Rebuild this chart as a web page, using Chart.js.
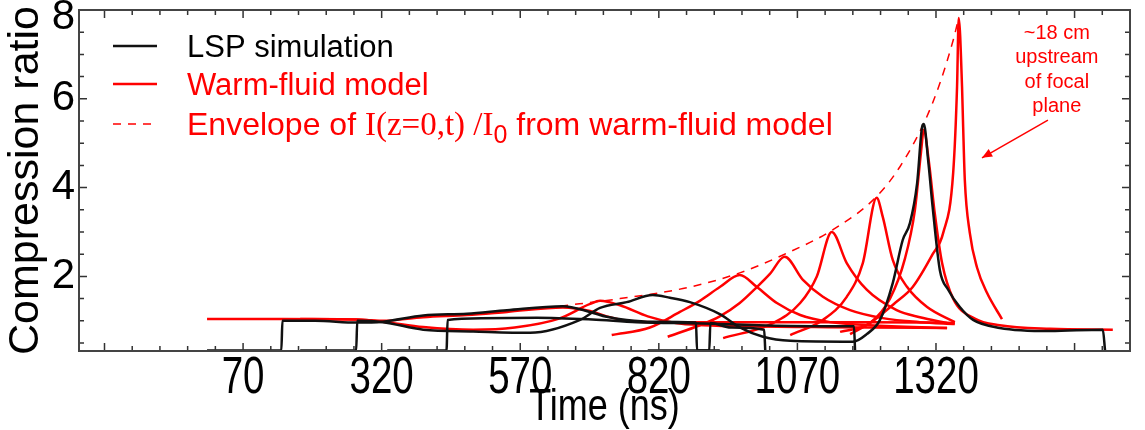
<!DOCTYPE html>
<html>
<head>
<meta charset="utf-8">
<script src="https://cdn.jsdelivr.net/npm/chart.js@4.4.1/dist/chart.umd.min.js"></script>
<style>
  html, body { margin: 0; padding: 0; background: #fff; }
  #wrap { width: 1145px; height: 430px; }
</style>
</head>
<body>
<div id="wrap"><canvas id="compChart"></canvas></div>
<script>
// ---- axis ticks ----
const xTickValues = [70, 320, 570, 820, 1070, 1320];
const yTickValues = [2, 4, 6, 8];

// ---- LSP simulation (time in ns, compression ratio) ----
const lspTimeA  = [5, 139, 141, 200, 275, 322, 395, 474, 546, 647, 696, 726, 762, 809, 887, 889, 930];
const lspRatioA = [0.33, 0.33, 1.0, 1.0, 0.96, 0.98, 1.12, 1.16, 1.24, 1.33, 1.2, 1.09, 1.02, 0.98, 0.96, 0.33, 0.33];

const lspTimeB  = [173, 274, 276, 322, 395, 485, 588, 678, 714, 762, 809, 840, 876, 930, 966, 1008, 1057, 1170,
                   1195, 1219, 1242, 1260, 1273, 1286, 1295, 1298, 1306, 1314, 1327, 1342, 1363, 1387, 1435, 1526, 1621, 1625];
const lspRatioB = [0.33, 0.33, 1.0, 0.97, 0.8, 0.76, 0.73, 1.02, 1.29, 1.42, 1.58, 1.52, 1.42, 1.15, 0.85, 0.64, 0.55, 0.53,
                   0.7, 1.02, 1.85, 2.82, 3.2, 4.1, 5.37, 5.43, 4.6, 3.56, 2.14, 1.7, 1.31, 1.02, 0.84, 0.77, 0.8, 0.33];

const lspTimeC  = [330, 437, 439, 500, 600, 700, 780, 900, 1000, 1100, 1172, 1174];
const lspRatioC = [0.33, 0.33, 1.02, 1.06, 1.07, 1.03, 0.97, 0.94, 0.9, 0.88, 0.88, 0.33];

const lspTimeD  = [800, 911, 913, 950, 1010, 1012];
const lspRatioD = [0.33, 0.33, 0.95, 0.85, 0.8, 0.33];

// ---- warm-fluid model ----
const wfTime0  = [5, 140, 275, 322, 395, 474, 546, 647, 696, 726, 762, 809, 900, 1000, 1100, 1200, 1300, 1354];
const wfRatio0 = [1.04, 1.04, 1.03, 1.0, 1.08, 1.13, 1.2, 1.3, 1.22, 1.1, 1.0, 0.97, 0.97, 0.97, 0.97, 0.97, 0.96, 0.95];

const wfTime1  = [173, 275, 322, 395, 485, 560, 640, 696, 714, 750, 800, 850, 900, 1000, 1100, 1200, 1340];
const wfRatio1 = [1.04, 1.03, 0.98, 0.86, 0.8, 0.85, 1.05, 1.38, 1.45, 1.35, 1.1, 0.95, 0.9, 0.87, 0.86, 0.85, 0.84];

const wfTime2  = [735, 804, 858, 894, 930, 966, 997, 1033, 1075, 1129, 1201, 1340];
const wfRatio2 = [0.68, 0.85, 1.2, 1.45, 1.76, 2.03, 1.76, 1.4, 1.13, 0.97, 0.9, 0.84];

const wfTime3  = [836, 894, 930, 966, 997, 1020, 1047, 1080, 1116, 1165, 1224, 1291, 1354];
const wfRatio3 = [0.64, 0.9, 1.1, 1.4, 1.76, 2.05, 2.44, 1.92, 1.54, 1.24, 1.06, 0.97, 0.93];

const wfTime4  = [936, 1026, 1075, 1105, 1132, 1159, 1195, 1249, 1291, 1340];
const wfRatio4 = [0.61, 0.95, 1.4, 2.0, 3.0, 2.3, 1.7, 1.24, 1.08, 0.95];

const wfTime5  = [1057, 1116, 1159, 1188, 1213, 1224, 1242, 1268, 1304, 1354];
const wfRatio5 = [0.68, 1.02, 1.54, 2.3, 3.77, 3.34, 2.37, 1.76, 1.31, 0.97];

const wfTime6  = [1147, 1201, 1237, 1264, 1282, 1293, 1298, 1307, 1318, 1331, 1351, 1390, 1435, 1526, 1639];
const wfRatio6 = [0.75, 0.95, 1.5, 2.4, 3.5, 4.8, 5.3, 4.6, 3.4, 2.3, 1.5, 1.05, 0.9, 0.82, 0.8];

const wfTime7  = [1165, 1201, 1246, 1278, 1314, 1333, 1351, 1358, 1361, 1367, 1369, 1372, 1381, 1394, 1412, 1439];
const wfRatio7 = [0.7, 0.95, 1.4, 1.76, 2.5, 2.98, 4.33, 6.27, 7.82, 6.27, 5.37, 4.17, 2.98, 2.2, 1.63, 1.04];

// envelope of I(z=0,t)/I0
const envTime  = [642, 750, 876, 966, 1047, 1134, 1213, 1255, 1300, 1327, 1351, 1361];
const envRatio = [1.33, 1.5, 1.76, 2.08, 2.5, 3.05, 3.8, 4.47, 5.5, 6.35, 7.32, 7.82];

const noteLines = ["~18 cm", "upstream", "of focal", "plane"];

const RED = "#ff0000";
const BLACK = "#111111";
const SANS = "'Liberation Sans', Arial, sans-serif";

function pts(t, v) {
    return t.map((x, i) => ({ x: x, y: v[i] }));
}

function trace(t, v, color, extra) {
    return Object.assign({
        data: pts(t, v),
        borderColor: color,
        borderWidth: 2.5,
        pointRadius: 0,
        fill: false,
        cubicInterpolationMode: "monotone"
    }, extra || {});
}

// condensed text (the x axis uses a narrow face in the original)
function narrowText(ctx, txt, x, y, size, squeeze) {
    ctx.save();
    ctx.translate(x, y);
    ctx.scale(squeeze, 1);
    ctx.font = size + "px " + SANS;
    ctx.fillText(txt, 0, 0);
    ctx.restore();
}

// frame, inward ticks, axis labels, legend and note
const decorPlugin = {
    id: "decor",
    afterDraw(chart) {
        const ctx = chart.ctx;
        const a = chart.chartArea;
        const xs = chart.scales.x, ys = chart.scales.y;
        ctx.save();

        // ticks
        ctx.strokeStyle = "#333";
        ctx.lineWidth = 1.5;
        ctx.beginPath();
        for (let t = -180; t <= 1670; t += 50) {
            const px = xs.getPixelForValue(t);
            const len = ((t - 70) % 250 === 0) ? 8 : 5;
            ctx.moveTo(px, a.bottom); ctx.lineTo(px, a.bottom - len);
            ctx.moveTo(px, a.top); ctx.lineTo(px, a.top + len);
        }
        for (let v = 0.5; v < 8; v += 0.5) {
            const py = ys.getPixelForValue(v);
            const len = (v % 2 === 0) ? 8 : 5;
            ctx.moveTo(a.left, py); ctx.lineTo(a.left + len, py);
            ctx.moveTo(a.right, py); ctx.lineTo(a.right - len, py);
        }
        ctx.stroke();

        // frame
        ctx.lineWidth = 2;
        ctx.strokeStyle = "#444";
        ctx.strokeRect(a.left, a.top, a.right - a.left, a.bottom - a.top);

        // y tick labels
        ctx.fillStyle = "#000";
        ctx.font = "42px " + SANS;
        ctx.textAlign = "right";
        ctx.textBaseline = "middle";
        yTickValues.forEach(v => {
            const py = Math.max(ys.getPixelForValue(v), 17);
            ctx.fillText(String(v), a.left - 4, py);
        });

        // x tick labels and title
        ctx.textAlign = "center";
        ctx.textBaseline = "alphabetic";
        xTickValues.forEach(v => {
            narrowText(ctx, String(v), xs.getPixelForValue(v), a.bottom + 42, 52, 0.74);
        });
        narrowText(ctx, "Time (ns)", (a.left + a.right) / 2, a.bottom + 69, 45, 0.8);

        // legend
        const lx0 = a.left + 34, lx1 = a.left + 78, tx = a.left + 108;
        const rows = [a.top + 36, a.top + 74, a.top + 114];
        ctx.lineWidth = 2.5;
        ctx.strokeStyle = BLACK;
        ctx.beginPath(); ctx.moveTo(lx0, rows[0]); ctx.lineTo(lx1, rows[0]); ctx.stroke();
        ctx.strokeStyle = RED;
        ctx.beginPath(); ctx.moveTo(lx0, rows[1]); ctx.lineTo(lx1, rows[1]); ctx.stroke();
        ctx.setLineDash([8, 7]);
        ctx.lineWidth = 1.5;
        ctx.beginPath(); ctx.moveTo(lx0, rows[2]); ctx.lineTo(lx1, rows[2]); ctx.stroke();
        ctx.setLineDash([]);

        ctx.textAlign = "left";
        ctx.font = "31px " + SANS;
        ctx.fillStyle = "#000";
        ctx.fillText("LSP simulation", tx, rows[0] + 11);
        ctx.fillStyle = RED;
        ctx.fillText("Warm-fluid model", tx, rows[1] + 11);

        let cx = tx;
        const base = rows[2] + 11;
        const part = (txt, font, dy) => {
            ctx.font = font;
            ctx.fillText(txt, cx, base + (dy || 0));
            cx += ctx.measureText(txt).width;
        };
        part("Envelope of ", "32px " + SANS);
        part("I(z=0,t) /I", "33px 'Liberation Serif', 'Times New Roman', serif");
        part("0", "25px " + SANS, 8);
        part(" from warm-fluid model", "32px " + SANS);

        // note and arrow
        ctx.font = "20px " + SANS;
        ctx.textAlign = "center";
        ctx.textBaseline = "middle";
        const nx = xs.getPixelForValue(1538);
        noteLines.forEach((s, i) => {
            ctx.fillText(s, nx, ys.getPixelForValue(7.48) + i * 24.5);
        });
        const ax0 = xs.getPixelForValue(1522), ay0 = ys.getPixelForValue(5.52);
        const ax1 = xs.getPixelForValue(1403), ay1 = ys.getPixelForValue(4.67);
        ctx.strokeStyle = RED;
        ctx.lineWidth = 1.5;
        ctx.beginPath(); ctx.moveTo(ax0, ay0); ctx.lineTo(ax1, ay1); ctx.stroke();
        const ang = Math.atan2(ay1 - ay0, ax1 - ax0);
        ctx.beginPath();
        ctx.moveTo(ax1, ay1);
        ctx.lineTo(ax1 - 11 * Math.cos(ang - 0.4), ay1 - 11 * Math.sin(ang - 0.4));
        ctx.lineTo(ax1 - 11 * Math.cos(ang + 0.4), ay1 - 11 * Math.sin(ang + 0.4));
        ctx.closePath();
        ctx.fillStyle = RED;
        ctx.fill();

        ctx.restore();
    }
};

const ctx = document.getElementById("compChart").getContext("2d");

new Chart(ctx, {
    type: "line",
    data: {
        datasets: [
            trace(lspTimeB, lspRatioB, BLACK),
            trace(lspTimeA, lspRatioA, BLACK),
            trace(lspTimeC, lspRatioC, BLACK),
            trace(lspTimeD, lspRatioD, BLACK),
            trace(wfTime7, wfRatio7, RED),
            trace(wfTime6, wfRatio6, RED),
            trace(wfTime5, wfRatio5, RED),
            trace(wfTime4, wfRatio4, RED),
            trace(wfTime3, wfRatio3, RED),
            trace(wfTime2, wfRatio2, RED),
            trace(wfTime1, wfRatio1, RED),
            trace(wfTime0, wfRatio0, RED),
            trace(envTime, envRatio, RED, { borderWidth: 1.5, borderDash: [8, 7] })
        ]
    },
    options: {
        responsive: true,
        maintainAspectRatio: false,
        animation: false,
        layout: { padding: { top: 10, right: 15, left: 0, bottom: 0 } },
        plugins: { legend: { display: false }, tooltip: { enabled: false } },
        scales: {
            x: {
                type: "linear",
                min: -226,
                max: 1670,
                grid: { display: false, drawTicks: false },
                border: { display: false },
                afterBuildTicks: s => { s.ticks = xTickValues.map(v => ({ value: v })); },
                afterFit: s => { s.height = 79; },
                ticks: { display: false },
                title: { display: false, text: "Time (ns)" }
            },
            y: {
                min: 0.32,
                max: 8,
                grid: { display: false, drawTicks: false },
                border: { display: false },
                afterBuildTicks: s => { s.ticks = yTickValues.map(v => ({ value: v })); },
                afterFit: s => { s.width = 79; },
                ticks: { display: false },
                title: {
                    display: true,
                    text: "Compression ratio",
                    color: "#000",
                    padding: 0,
                    font: { family: SANS, size: 43 }
                }
            }
        }
    },
    plugins: [decorPlugin]
});
</script>
</body>
</html>
